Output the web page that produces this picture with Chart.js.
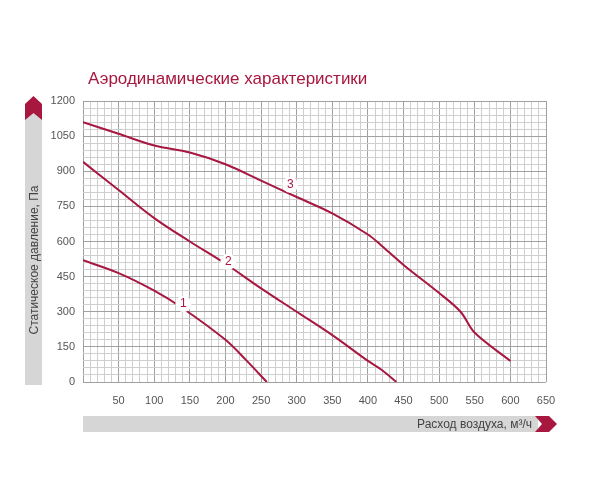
<!DOCTYPE html>
<html><head><meta charset="utf-8">
<script src="https://cdn.jsdelivr.net/npm/chart.js@4"></script>
<style>body{margin:0;background:#fff}#wrap{width:600px;height:500px}</style>
</head><body><div id="wrap"><canvas id="c"></canvas></div>
<script>
// curve data: [airflow m3/h, pressure Pa]
const curve1 = [[0,520],[50,465],[100,390],[140,315],[200,180],[230,90],[258,0]];
const curve2 = [[0,940],[50,820],[100,700],[150,600],[200,505],[250,400],[300,300],[350,200],[400,90],[420,50],[440,0]];
const curve3 = [[0,1110],[50,1060],[100,1010],[150,980],[200,930],[250,860],[300,790],[350,720],[400,630],[420,580],[450,500],[500,380],[530,300],[550,210],[600,90]];
const curveLabels = ['1', '2', '3'];
const labelPoints = [[141,333],[204,513],[291,842]];
const titleText = 'Аэродинамические характеристики';
const yTitle = 'Статическое давление, Па';
const xTitle = 'Расход воздуха, м³/ч';

const red = '#a8173f';
const toXY = arr => arr.map(p => ({x: p[0], y: p[1]}));

const decor = {
  id: 'decor',
  afterDraw(chart) {
    const ctx = chart.ctx, xs = chart.scales.x, ys = chart.scales.y;
    ctx.save();
    // curve number badges
    ctx.font = '12px Arial, "Liberation Sans"';
    ctx.textAlign = 'center'; ctx.textBaseline = 'middle';
    labelPoints.forEach((p, i) => {
      const px = xs.getPixelForValue(p[0]), py = ys.getPixelForValue(p[1]);
      ctx.fillStyle = '#fff';
      ctx.beginPath(); ctx.arc(px, py, 8, 0, Math.PI * 2); ctx.fill();
      ctx.fillStyle = red; ctx.fillText(curveLabels[i], px, py);
    });
    // title
    ctx.textAlign = 'left'; ctx.textBaseline = 'alphabetic';
    ctx.font = '17px Arial, "Liberation Sans"';
    ctx.fillStyle = red;
    ctx.fillText(titleText, 88, 84);
    // y banner
    ctx.fillStyle = '#d6d6d6';
    ctx.fillRect(25, 112, 17, 273);
    ctx.fillStyle = red;
    ctx.beginPath();
    ctx.moveTo(25, 104); ctx.lineTo(33.5, 96); ctx.lineTo(42, 104);
    ctx.lineTo(42, 120); ctx.lineTo(33.5, 113); ctx.lineTo(25, 120); ctx.closePath(); ctx.fill();
    ctx.save();
    ctx.translate(38, 260); ctx.rotate(-Math.PI / 2);
    ctx.fillStyle = '#444'; ctx.font = '12px Arial, "Liberation Sans"';
    ctx.textAlign = 'center'; ctx.fillText(yTitle, 0, 0);
    ctx.restore();
    // x banner
    ctx.fillStyle = '#d6d6d6';
    ctx.fillRect(83, 416, 455, 16);
    ctx.fillStyle = red;
    ctx.beginPath();
    ctx.moveTo(535, 416); ctx.lineTo(549, 416); ctx.lineTo(557, 424);
    ctx.lineTo(549, 432); ctx.lineTo(535, 432); ctx.lineTo(542, 424); ctx.closePath(); ctx.fill();
    ctx.fillStyle = '#444'; ctx.font = '12px Arial, "Liberation Sans"';
    ctx.textAlign = 'right'; ctx.textBaseline = 'middle';
    ctx.fillText(xTitle, 532, 425);
    ctx.restore();
  }
};

const lineDs = (d) => ({data: toXY(d), borderColor: red, borderWidth: 2, pointRadius: 0, tension: 0.35, fill: false});

new Chart(document.getElementById('c'), {
  type: 'line',
  data: {datasets: [lineDs(curve1), lineDs(curve2), lineDs(curve3)]},
  options: {
    responsive: true, maintainAspectRatio: false, animation: false,
    layout: {padding: {top: 101, right: 54, bottom: 88, left: 0}},
    plugins: {legend: {display: false}, tooltip: {enabled: false}},
    scales: {
      x: {
        type: 'linear', min: 0, max: 650,
        afterFit: s => { s.height = 30; },
        afterBuildTicks: s => { s.ticks = []; for (let v = 0; v <= 650; v += 10) s.ticks.push({value: v}); },
        grid: {color: c => c.tick.value % 50 === 0 ? '#a0a0a0' : '#cfcfcf', lineWidth: 1, drawTicks: false},
        border: {display: false},
        ticks: {autoSkip: false, maxRotation: 0, padding: 12, color: '#555', font: {size: 11, family: 'Arial'},
          callback: v => (v % 50 === 0 && v !== 0) ? v : ''}
      },
      y: {
        min: 0, max: 1200,
        afterFit: s => { s.width = 83; },
        afterBuildTicks: s => { s.ticks = []; for (let v = 0; v <= 1200; v += 30) s.ticks.push({value: v}); },
        grid: {color: c => c.tick.value % 150 === 0 ? '#a0a0a0' : '#cfcfcf', lineWidth: 1, drawTicks: false},
        border: {display: false},
        ticks: {autoSkip: false, padding: 8, color: '#555', font: {size: 11, family: 'Arial'},
          callback: v => v % 150 === 0 ? v : ''}
      }
    }
  },
  plugins: [decor]
});
</script></body></html>
